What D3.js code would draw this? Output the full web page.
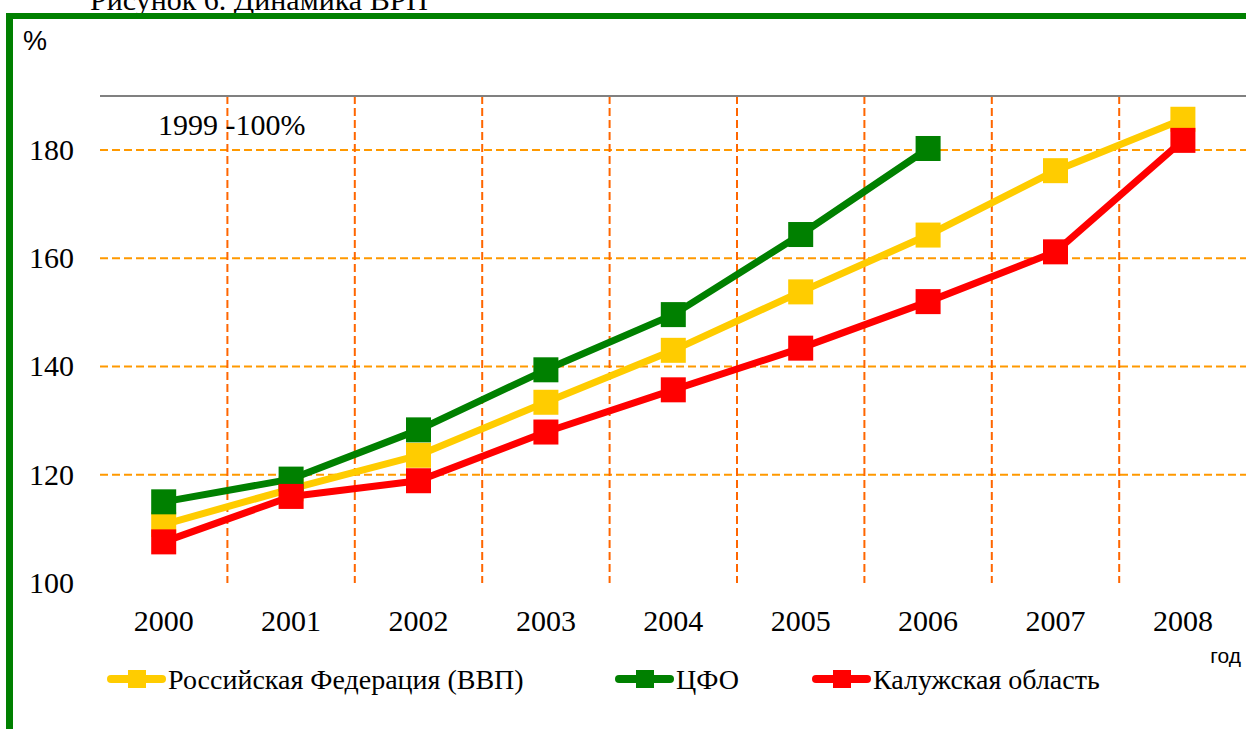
<!DOCTYPE html>
<html><head><meta charset="utf-8">
<script src="https://cdn.jsdelivr.net/npm/d3@7"></script>
<style>body{margin:0;background:#fff}</style>
</head><body>
<svg id="c" width="1246" height="729"></svg>
<script>
const years = ["2000","2001","2002","2003","2004","2005","2006","2007","2008"];
const rfValues = [110.8, 117.4, 123.6, 133.4, 143.0, 153.8, 164.3, 176.2, 185.7];
const cfoValues = [115.0, 119.2, 128.3, 139.4, 149.6, 164.4, 180.3];
const kalugaValues = [107.6, 116.0, 118.9, 127.9, 135.7, 143.4, 152.0, 161.2, 181.8];
const seriesNames = ["Российская Федерация (ВВП)", "ЦФО", "Калужская область"];
const seriesColors = ["#ffcc00", "#008000", "#ff0000"];
const yTicks = [100, 120, 140, 160, 180];
const titleText = "Рисунок 6. Динамика ВРП";
const noteText = "1999 -100%";

const serifName = "Liberation Serif";
const sansName = "Liberation Sans";
const SERIF = `"${serifName}", monospace`;
const SANS = `"${sansName}", monospace`;
const svg = d3.select("#c");

const x = d3.scaleBand().domain(years).range([100, 1246.6]).padding(0);
const y = d3.scaleLinear().domain([100, 190]).range([583, 96]);

function txt(parent, family, size) {
  return parent.append("text").style("font-family", family).style("font-size", size + "px").attr("fill", "#000");
}

// title (cut off at top, as in the source figure)
txt(svg, SERIF, 30).attr("x", 90).attr("y", 10).text(titleText);

// green frame
svg.append("rect").attr("x", 6).attr("y", 13).attr("width", 1246).attr("height", 6).attr("fill", "#008000");
svg.append("rect").attr("x", 6).attr("y", 13).attr("width", 7).attr("height", 716).attr("fill", "#008000");

// % label
txt(svg, SANS, 27).attr("x", 23).attr("y", 50).text("%");

// horizontal gridlines
svg.append("g").selectAll("line").data(yTicks.filter(d => d > 100)).join("line")
  .attr("x1", 100).attr("x2", 1246).attr("y1", d => y(d)).attr("y2", d => y(d))
  .attr("stroke", "#ff9900").attr("stroke-width", 2).attr("stroke-dasharray", "8,4");

// vertical gridlines (band boundaries)
svg.append("g").selectAll("line").data(years.slice(1)).join("line")
  .attr("x1", d => x(d)).attr("x2", d => x(d)).attr("y1", y(190)).attr("y2", y(100))
  .attr("stroke", "#ff6600").attr("stroke-width", 2).attr("stroke-dasharray", "8,4");

// top gray line
svg.append("line").attr("x1", 100).attr("x2", 1246).attr("y1", y(190)).attr("y2", y(190))
  .attr("stroke", "#808080").attr("stroke-width", 2);

// y axis (ticks computed by the scale, labels drawn as serif text)
const ya = svg.append("g");
ya.selectAll("text").data(yTicks).join("text")
  .style("font-family", SERIF).style("font-size", "30px").attr("fill", "#000")
  .attr("text-anchor", "end").attr("x", 74).attr("y", d => y(d)).attr("dy", "0.33em")
  .text(d => d);

// x axis labels
const xa = svg.append("g");
xa.selectAll("text").data(years).join("text")
  .style("font-family", SERIF).style("font-size", "30px").attr("fill", "#000")
  .attr("text-anchor", "middle").attr("x", d => x(d) + x.bandwidth() / 2).attr("y", 610).attr("dy", "0.71em")
  .text(d => d);

// год
txt(svg, SANS, 21).attr("x", 1241).attr("y", 663).attr("text-anchor", "end").text("год");

// note
txt(svg, SERIF, 30).attr("x", 158).attr("y", 135).text(noteText);

// series
const allSeries = [rfValues, cfoValues, kalugaValues];
const line = d3.line().x((d, i) => x(years[i]) + x.bandwidth() / 2).y(d => y(d));
const ms = 25;
allSeries.forEach((vals, si) => {
  const g = svg.append("g");
  g.append("path").datum(vals).attr("d", line).attr("fill", "none")
    .attr("stroke", seriesColors[si]).attr("stroke-width", 7).attr("stroke-linejoin", "round");
  g.selectAll("rect").data(vals).join("rect")
    .attr("x", (d, i) => x(years[i]) + x.bandwidth() / 2 - ms / 2)
    .attr("y", d => y(d) - ms / 2)
    .attr("width", ms).attr("height", ms).attr("fill", seriesColors[si]);
});

// legend
const legendX = [108, 616, 813];
const lg = svg.append("g");
seriesNames.forEach((name, i) => {
  const lx = legendX[i], ly = 679;
  lg.append("line").attr("x1", lx + 3).attr("x2", lx + 54).attr("y1", ly).attr("y2", ly)
    .attr("stroke", seriesColors[i]).attr("stroke-width", 8).attr("stroke-linecap", "round");
  lg.append("rect").attr("x", lx + 20).attr("y", ly - 9).attr("width", 18).attr("height", 18)
    .attr("fill", seriesColors[i]);
  txt(lg, SERIF, 28).attr("x", lx + 60).attr("y", 689).text(name);
});
</script>
</body></html>
